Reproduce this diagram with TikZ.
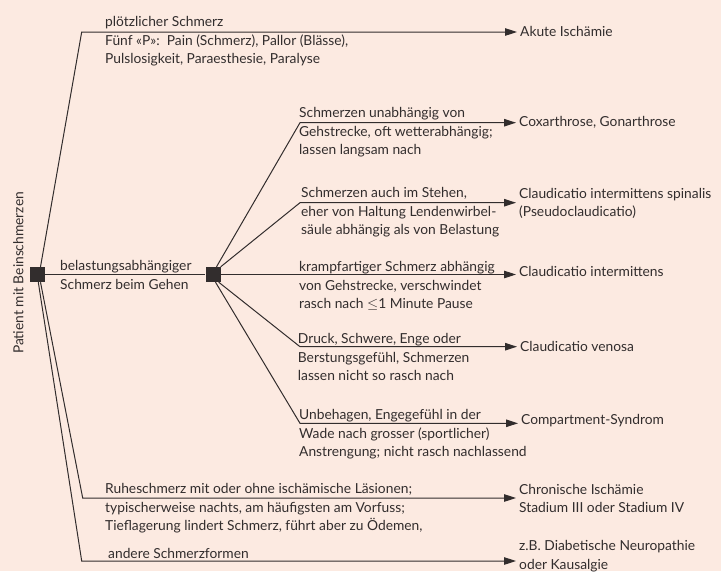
\documentclass[tikz,border=0pt]{standalone}
\usepackage{fontspec}
\setmainfont{Lato}
\usetikzlibrary{arrows.meta}
\definecolor{paper}{RGB}{252,234,225}
\definecolor{ink}{RGB}{50,45,45}

\begin{document}
\begin{tikzpicture}[x=1pt, y=-1pt, font=\fontsize{13.8}{18.5}\selectfont, text=ink,
  box/.style={fill=ink, minimum size=15pt, inner sep=0pt},
  txt/.style={anchor=north west, align=left, inner sep=0pt},
  tgt/.style={anchor=west, align=left, inner sep=3pt},
  ln/.style={draw=ink, line width=1pt},
  arr/.style={ln, -{Triangle[length=12pt, width=7.5pt]}}]
\fill[paper] (0,0) rectangle (721,571);
\useasboundingbox (0,0) rectangle (721,571);

\node[box] (root) at (37.5,274.5) {};
\node[box] (load) at (213,274.5) {};
\node[rotate=90] (patient) at (18.3,273) {Patient mit Beinschmerzen};

% Diagnosen
\node[tgt] (akut) at (517,31) {Akute Ischämie};
\node[tgt] (coxa) at (516,122) {Coxarthrose, Gonarthrose};
\node[tgt] (spin) at (516,203.5) {Claudicatio intermittens spinalis\\(Pseudoclaudicatio)};
\node[tgt] (inter) at (516,271.7) {Claudicatio intermittens};
\node[tgt] (venosa) at (517,346) {Claudicatio venosa};
\node[tgt] (comp) at (518,420.7) {Compartment-Syndrom};
\node[tgt] (chron) at (516,498.5) {Chronische Ischämie\\Stadium III oder Stadium IV};
\node[tgt] (diab) at (516,556) {z.B. Diabetische Neuropathie\\oder Kausalgie};

% Beschreibungen
\node[txt] (akutText) at (105,16.5) {plötzlicher Schmerz\\Fünf «P»:~ Pain (Schmerz), Pallor (Blässe),\\Pulslosigkeit, Paraesthesie, Paralyse};
\node[txt] (belText) at (60,260.5) {belastungsabhängiger\\Schmerz beim Gehen};
\node[txt] (coxaText) at (299,107.5) {Schmerzen unabhängig von\\Gehstrecke, oft wetterabhängig;\\lassen langsam nach};
\node[txt] (spinText) at (301,187.5) {Schmerzen auch im Stehen,\\eher von Haltung Lendenwirbel-\\säule abhängig als von Belastung};
\node[txt] (interText) at (299,261.5) {krampfartiger Schmerz abhängig\\von Gehstrecke, verschwindet\\rasch nach $\leq$1 Minute Pause};
\node[txt] (venText) at (297.7,333.5) {Druck, Schwere, Enge oder\\Berstungsgefühl, Schmerzen\\lassen nicht so rasch nach};
\node[txt] (compText) at (299,409.5) {Unbehagen, Engegefühl in der\\Wade nach grosser (sportlicher)\\Anstrengung; nicht rasch nachlassend};
\node[txt] (ruheText) at (105,483.5) {Ruheschmerz mit oder ohne ischämische Läsionen;\\typischerweise nachts, am häufigsten am Vorfuss;\\Tieflagerung lindert Schmerz, führt aber zu Ödemen,};
\node[txt] (andereText) at (108,548.5) {andere Schmerzformen};

% Knicke
\coordinate (kAkut) at (81.7,32);
\coordinate (kCoxa) at (300,122.7);
\coordinate (kSpin) at (300,202.7);
\coordinate (kVen) at (300,346.7);
\coordinate (kComp) at (300,423.3);
\coordinate (kRuhe) at (82.7,498);
\coordinate (kAnd) at (81.7,561);

\draw[arr] ([xshift=3pt]root.north) -- (kAkut) -- (kAkut -| akut.west);
\draw[ln] (root) -- (load);
\draw[arr] ([xshift=3pt]root.south) -- (kRuhe) -- (kRuhe -| chron.west);
\draw[arr] ([xshift=0.8pt]root.south) -- (kAnd) -- (kAnd -| diab.west);

\draw[arr] ([xshift=3.5pt]load.north) -- (kCoxa) -- (kCoxa -| coxa.west);
\draw[arr] (load.north east) -- (kSpin) -- (kSpin -| spin.west);
\draw[arr] (load) -- (load -| inter.west);
\draw[arr] ([xshift=-2pt]load.south east) -- (kVen) -- (kVen -| venosa.west);
\draw[arr] ([xshift=2.5pt]load.south) -- (kComp) -- (kComp -| comp.west);
\end{tikzpicture}
\end{document}
